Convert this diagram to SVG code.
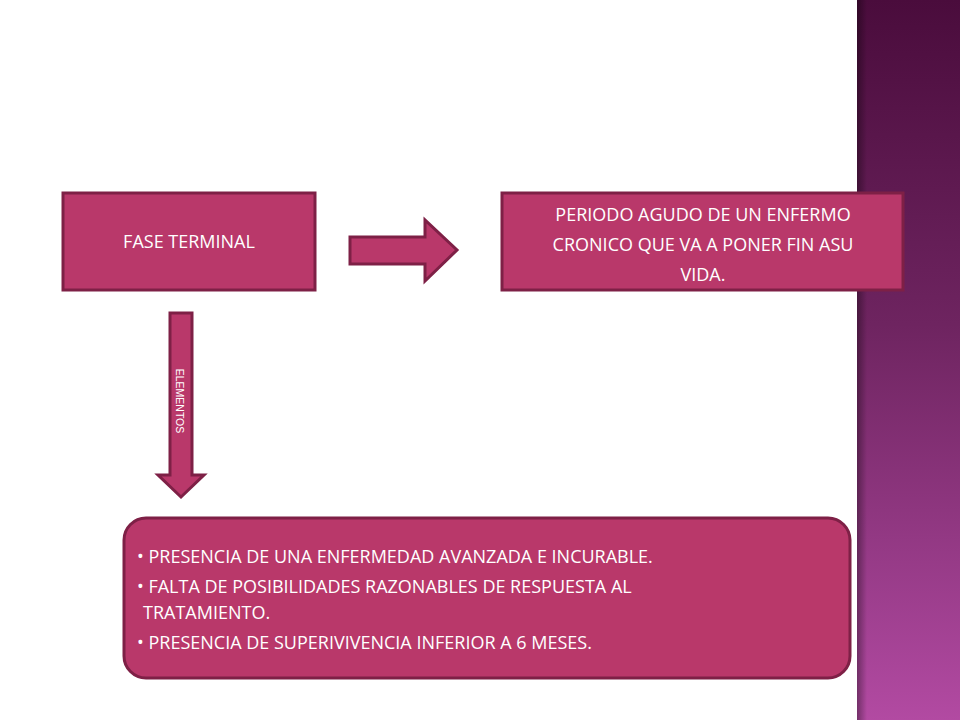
<svg xmlns="http://www.w3.org/2000/svg" width="960" height="720" viewBox="0 0 960 720">
<defs>
<linearGradient id="side" x1="0" y1="0" x2="0" y2="1">
<stop offset="0" stop-color="#4a0c3c"/><stop offset="0.45" stop-color="#6e2460"/><stop offset="1" stop-color="#b24aa2"/>
</linearGradient>
<linearGradient id="sh" x1="0" y1="0" x2="1" y2="0">
<stop offset="0" stop-color="#000" stop-opacity="0.35"/><stop offset="1" stop-color="#000" stop-opacity="0"/>
</linearGradient>
<linearGradient id="box" x1="0" y1="0" x2="1" y2="0">
<stop offset="0" stop-color="#b83868"/><stop offset="1" stop-color="#c03a6a"/>
</linearGradient>
</defs>
<style>
.b{fill:#b9386a;stroke:#7e2046;stroke-width:3}
.t{font-family:"Open Sans","DejaVu Sans",sans-serif;font-size:18px;fill:#fff}
.ar{fill:#b9386a;stroke:#7e2046;stroke-width:3}
</style>
<rect width="960" height="720" fill="#fff"/>
<rect x="857" y="0" width="103" height="720" fill="url(#side)"/>
<rect x="857" y="0" width="10" height="720" fill="url(#sh)"/>
<g id="fase"><rect class="b" x="63" y="193" width="252" height="97"/>
<text class="t" x="189" y="248" text-anchor="middle">FASE TERMINAL</text></g>
<g id="periodo"><rect class="b" x="502" y="193" width="401" height="97"/>
<text class="t" x="703" y="221" text-anchor="middle">PERIODO AGUDO DE UN ENFERMO</text>
<text class="t" x="703" y="251" text-anchor="middle">CRONICO QUE VA A PONER FIN ASU</text>
<text class="t" x="703" y="281" text-anchor="middle">VIDA.</text></g>
<g id="elementos"><rect class="b" x="124" y="518" width="726" height="160" rx="22"/>
<text class="t" x="137" y="563">• PRESENCIA DE UNA ENFERMEDAD AVANZADA  E INCURABLE.</text>
<text class="t" x="137" y="593">• FALTA DE POSIBILIDADES RAZONABLES DE RESPUESTA AL</text>
<text class="t" x="143" y="619">TRATAMIENTO.</text>
<text class="t" x="137" y="649">• PRESENCIA DE SUPERIVIVENCIA INFERIOR A 6 MESES.</text></g>
<g id="connectors">
<polygon class="ar" points="350,237 425,237 425,220 457,250 425,281 425,264 350,264"/>
<polygon class="ar" points="170,313 192,313 192,475 204,475 181,497 158,475 170,475"/>
<text transform="translate(176,401) rotate(90)" text-anchor="middle" font-family="Liberation Sans,Arial,sans-serif" font-size="10.5" fill="#fff">ELEMENTOS</text>
</g>
</svg>
